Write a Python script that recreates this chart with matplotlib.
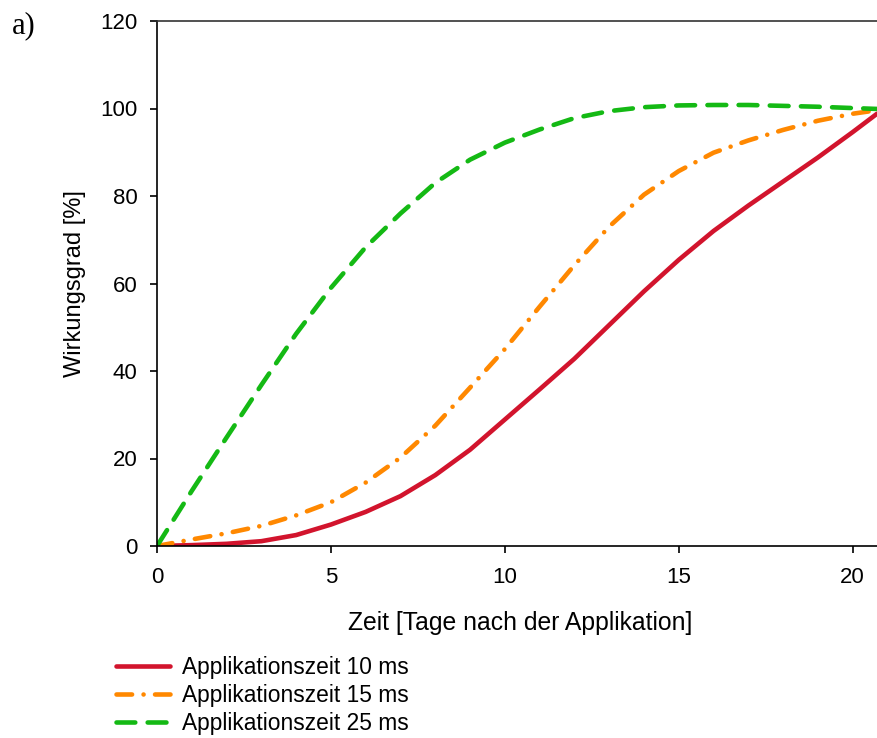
import matplotlib
import matplotlib.pyplot as plt

matplotlib.use("Agg")

# Efficiency over days after application, one series per application time
days = [0, 1, 2, 3, 4, 5, 6, 7, 8, 9, 10, 11, 12, 13, 14, 15, 16, 17, 18, 19, 20, 20.7]
eff_10ms = [0, 0.2, 0.5, 1.1, 2.5, 4.9, 7.8, 11.4, 16.2, 22.0, 28.9, 35.8, 42.8,
            50.5, 58.2, 65.4, 72.0, 77.8, 83.3, 88.8, 94.6, 98.8]
eff_15ms = [0, 1.5, 2.9, 4.6, 7.0, 10.0, 14.5, 20.2, 27.5, 36.2, 45.0, 54.7, 64.2,
            73.0, 80.3, 85.7, 89.9, 92.7, 95.1, 97.2, 98.8, 99.6]
eff_25ms = [0, 12.6, 24.8, 36.8, 48.5, 59.0, 68.3, 76.0, 83.0, 88.3, 92.2, 95.2, 97.8,
            99.4, 100.3, 100.7, 100.8, 100.8, 100.6, 100.4, 100.1, 99.9]

labels = ["Applikationszeit 10 ms", "Applikationszeit 15 ms", "Applikationszeit 25 ms"]
x_ticks = [0, 5, 10, 15, 20]
y_ticks = [0, 20, 40, 60, 80, 100, 120]

RED = "#d2142d"
ORANGE = "#ff8800"
GREEN = "#14b914"
LW = 3.3

plt.rcParams.update(
    {
        "font.family": ["Liberation Sans", "DejaVu Sans"],
        "font.size": 16,
    }
)

fig = plt.figure(figsize=(8.77, 7.38), dpi=100)
ax = fig.add_axes([157 / 877, 1 - 546 / 738, 720 / 877, 525 / 738])

ax.plot(days, eff_10ms, color=RED, linewidth=LW, label=labels[0],
        solid_capstyle="round", solid_joinstyle="round")
ax.plot(days, eff_15ms, color=ORANGE, linewidth=LW, label=labels[1],
        linestyle=(0, (3.4, 2.5, 0.01, 2.5)), dash_capstyle="round")
ax.plot(days, eff_25ms, color=GREEN, linewidth=LW, label=labels[2],
        linestyle=(0, (4.1, 2.7)), dash_capstyle="round")

ax.set_xlim(0, 20.7)
ax.set_ylim(0, 120)
ax.set_xticks(x_ticks)
ax.set_yticks(y_ticks)
ax.tick_params(direction="out", length=5, width=1.2, pad=9, labelsize=16)
ax.tick_params(axis="x", pad=10)

ax.spines["right"].set_visible(False)
for side in ("left", "bottom", "top"):
    ax.spines[side].set_linewidth(1.2)
ax.spines["top"].set_color("#333333")

ax.set_xlabel("Zeit [Tage nach der Applikation]", fontsize=17.8, va="center")
ax.xaxis.set_label_coords(0.504, -0.147)
ax.set_ylabel("Wirkungsgrad [%]", fontsize=17, va="center")
ax.yaxis.set_label_coords(-0.114, 0.5)

fig.legend(
    loc="upper left",
    bbox_to_anchor=(116 / 877, 1 - 656 / 738),
    frameon=False,
    fontsize=16.4,
    handlelength=2.35,
    handletextpad=0.56,
    labelspacing=0.22,
    borderpad=0,
    borderaxespad=0,
)

fig.text(12 / 877, 1 - 33 / 738, "a)", family=["Liberation Serif", "DejaVu Serif"],
         fontsize=22, ha="left", va="baseline")

fig.savefig("out.png", dpi=100)
